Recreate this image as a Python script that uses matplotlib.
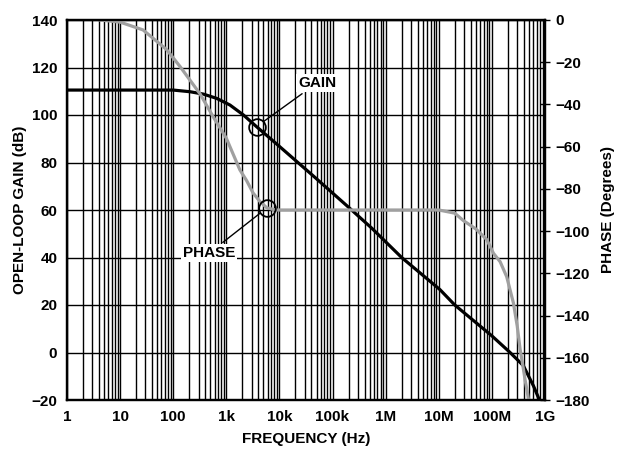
import numpy as np
import matplotlib
matplotlib.use("Agg")
import matplotlib.pyplot as plt
from matplotlib.ticker import FixedLocator, NullFormatter

# Values.
GainFreq = [1, 100, 207, 369, 659, 1.17e3, 2.1e3, 3.7e3, 6.65e3, 11.9e3, 43.6e3, 186e3, 550e3,
            2e6, 10.5e6, 20e6, 100e6, 220e6, 390e6, 605e6, 785e6]
GainDb = [110.5, 110.5, 109.8, 108.8, 107, 104.2, 100, 95.1, 90.2, 85.3, 74.3, 61.8, 52.3,
          40, 26.5, 20, 7, 0, -5.5, -14, -20]

PhaseFreq = [4.2, 10, 27, 75, 134, 320, 570, 1e3, 1.8e3, 2.4e3, 3.2e3, 4.3e3, 5.8e3, 8.5e3,
             10e6, 20e6, 29e6, 50e6, 80e6, 107e6, 143e6, 190e6, 254e6, 300e6, 340e6, 390e6, 422e6, 470e6, 490e6]
PhaseDeg = [0, -1, -4.7, -14, -22, -35, -46, -56, -71, -76, -82, -86, -89, -90,
            -90, -91.5, -95, -99, -104, -110.5, -114.5, -121.6, -134, -145, -156, -165, -170.5, -177, -180]

XTicks = [1, 1e1, 1e2, 1e3, 1e4, 1e5, 1e6, 1e7, 1e8, 1e9]
XLabels = ["1", "10", "100", "1k", "10k", "100k", "1M", "10M", "100M", "1G"]
GainTicks = list(range(-20, 141, 20))
PhaseTicks = list(range(-180, 1, 20))

plt.rcParams['font.family'] = ['Liberation Sans', 'DejaVu Sans']
plt.rcParams['font.weight'] = 'bold'
plt.rcParams['font.size'] = 11

Fig = plt.figure(figsize=(6.17, 4.54), dpi=100)
Ax = Fig.add_axes([67 / 617, 54 / 454, 478 / 617, 380 / 454])

# Grid: every decade plus 2..9 within each decade, 20 dB horizontal lines.
Ax.set_xscale('log')
Ax.set_xlim(1, 1e9)
Ax.set_ylim(-20, 140)
Ax.xaxis.set_major_locator(FixedLocator(XTicks))
Ax.set_xticklabels(XLabels)
MinorTicks = [m * 10 ** d for d in range(9) for m in range(2, 10)]
Ax.xaxis.set_minor_locator(FixedLocator(MinorTicks))
Ax.xaxis.set_minor_formatter(NullFormatter())
Ax.set_yticks(GainTicks)
Ax.grid(True, which='both', axis='x', color='black', linewidth=1.0)
Ax.grid(True, which='major', axis='y', color='black', linewidth=1.0)
Ax.tick_params(which='both', length=0, labelsize=11)
Ax.tick_params(axis='x', pad=7)
Ax.tick_params(axis='y', pad=7)
for Spine in Ax.spines.values():
    Spine.set_linewidth(1.6)

Ax.plot(GainFreq, GainDb, color='black', linewidth=2.3)
Ax.set_xlabel("FREQUENCY (Hz)", fontsize=11, fontweight='bold', labelpad=6)
Ax.set_ylabel("OPEN-LOOP GAIN (dB)", fontsize=11, fontweight='bold', labelpad=3)

Ax2 = Ax.twinx()
Ax2.set_ylim(-180, 0)
Ax2.set_yticks(PhaseTicks)
Ax2.tick_params(axis='y', direction='inout', length=7, width=1.0, pad=4, labelsize=11)
Ax2.plot(PhaseFreq, PhaseDeg, color='#a0a0a0', linewidth=2.3)
Ax2.set_ylabel("PHASE (Degrees)", fontsize=11, fontweight='bold', labelpad=8)
for Spine in Ax2.spines.values():
    Spine.set_linewidth(1.6)

# Callouts.
GainMark = (GainFreq[7], GainDb[7])
Ax.plot(*GainMark, marker='o', markersize=12, markerfacecolor='none',
        markeredgecolor='black', markeredgewidth=1.3)
Ax.annotate("GAIN", xy=GainMark, xytext=(51000, 113.5), ha='center', va='center',
            fontsize=11, fontweight='bold',
            bbox=dict(facecolor='white', edgecolor='none', pad=1.5),
            arrowprops=dict(arrowstyle='-', color='black', linewidth=1.0, shrinkA=2, shrinkB=6))

PhaseMark = (PhaseFreq[12], PhaseDeg[12])
Ax2.plot(*PhaseMark, marker='o', markersize=12, markerfacecolor='none',
         markeredgecolor='black', markeredgewidth=1.3)
Ax2.annotate("PHASE", xy=PhaseMark, xytext=(470, -110.5), ha='center', va='center',
             fontsize=11, fontweight='bold',
             bbox=dict(facecolor='white', edgecolor='none', pad=1.5),
             arrowprops=dict(arrowstyle='-', color='black', linewidth=1.0, shrinkA=2, shrinkB=6))

Fig.savefig("out.png", dpi=100)
